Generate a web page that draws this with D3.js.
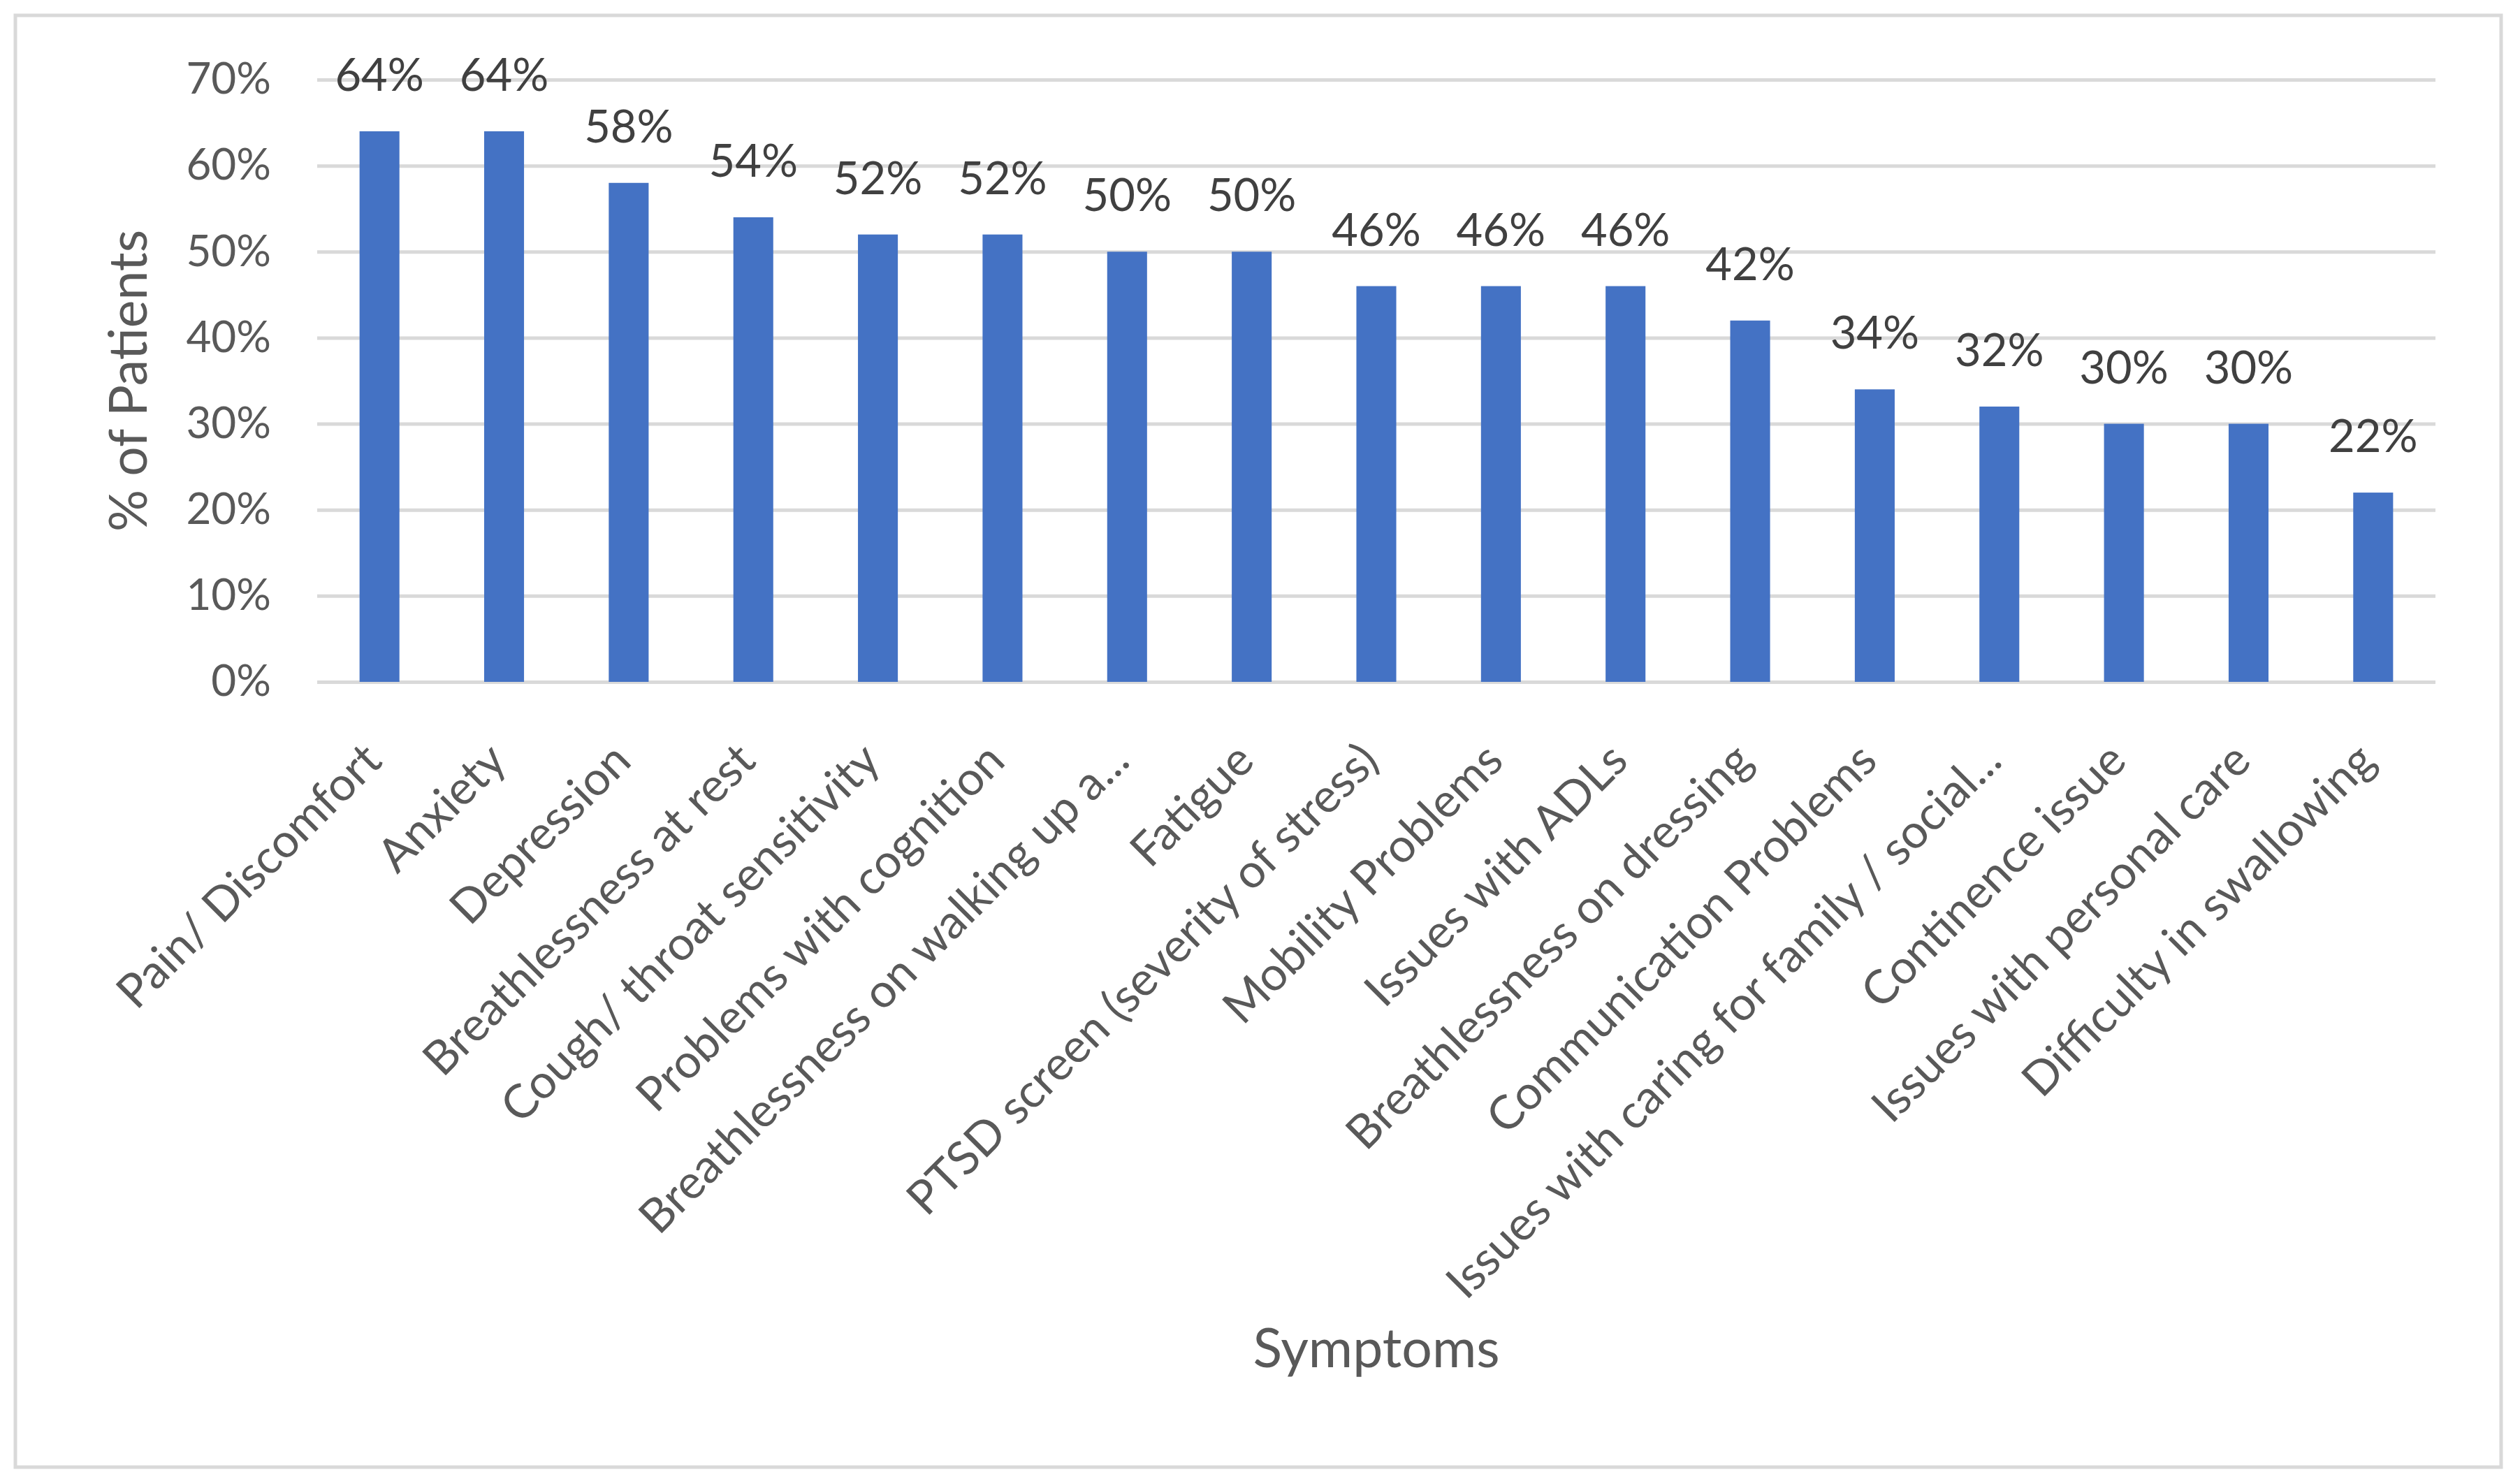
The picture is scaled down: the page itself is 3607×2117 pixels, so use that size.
<!DOCTYPE html>
<html>
<head>
<meta charset="utf-8">
<script src="https://cdn.jsdelivr.net/npm/d3@7"></script>
<style>
  html, body { margin: 0; padding: 0; background: #fff; }
  svg { display: block; font-family: Lato, "Open Sans", sans-serif; }
  .grid line { stroke: #d9d9d9; stroke-width: 5; }
  .grid path { display: none; }
</style>
</head>
<body>
<div id="chart"></div>
<script>
// Symptoms and share of patients (%)
const symptoms = [
  'Pain/ Discomfort', 'Anxiety', 'Depression', 'Breathlessness at rest',
  'Cough/ throat sensitivity', 'Problems with cognition', 'Breathlessness on walking up a...',
  'Fatigue', 'PTSD screen (severity of stress)', 'Mobility Problems', 'Issues with ADLs',
  'Breathlessness on dressing', 'Communication Problems', 'Issues with caring for family / social...',
  'Continence issue', 'Issues with personal care', 'Difficulty in swallowing'
];
const patientPct = [64, 64, 58, 54, 52, 52, 50, 50, 46, 46, 46, 42, 34, 32, 30, 30, 22];
const yTicks = [0, 10, 20, 30, 40, 50, 60, 70];

const W = 3607, H = 2117;
const plot = { left: 454, right: 3486, top: 114, bottom: 976 };

const svg = d3.select('#chart').append('svg')
  .attr('width', W).attr('height', H)
  .attr('viewBox', `0 0 ${W} ${H}`);

// outer chart border
svg.append('rect')
  .attr('x', 22).attr('y', 22).attr('width', 3558).attr('height', 2078)
  .attr('fill', '#fff').attr('stroke', '#d9d9d9').attr('stroke-width', 5);

const x = d3.scaleBand().domain(symptoms).range([plot.left, plot.right])
  .paddingInner(0.68).paddingOuter(0.34);
const y = d3.scaleLinear().domain([0, 70]).range([plot.bottom, plot.top]);

// gridlines + y tick labels
const yAxis = svg.append('g').attr('class', 'grid')
  .attr('transform', `translate(${plot.left},0)`)
  .call(d3.axisLeft(y).tickValues(yTicks).tickSize(-(plot.right - plot.left))
    .tickPadding(66).tickFormat(d => d + '%'));
yAxis.selectAll('text')
  .attr('font-size', 62).attr('fill', '#595959')
  .attr('font-family', 'Lato, "Open Sans", sans-serif');

// bars
svg.selectAll('rect.bar').data(patientPct).enter().append('rect')
  .attr('class', 'bar')
  .attr('x', (d, i) => x(symptoms[i]))
  .attr('y', d => y(d))
  .attr('width', x.bandwidth())
  .attr('height', d => y(0) - y(d))
  .attr('fill', '#4472c4');

// data labels
svg.selectAll('text.val').data(patientPct).enter().append('text')
  .attr('class', 'val')
  .attr('x', (d, i) => x(symptoms[i]) + x.bandwidth() / 2)
  .attr('y', d => y(d) - 58)
  .attr('text-anchor', 'middle')
  .attr('font-size', 65).attr('fill', '#404040')
  .text(d => d + '%');

// category labels, rotated
const xAxis = svg.append('g')
  .attr('transform', `translate(0,${plot.bottom})`)
  .call(d3.axisBottom(x).tickSize(0).tickPadding(0));
xAxis.select('.domain').remove();
xAxis.selectAll('text')
  .attr('font-size', 67).attr('fill', '#595959')
  .attr('font-family', 'Lato, "Open Sans", sans-serif')
  .attr('text-anchor', 'end')
  .attr('dy', '0.35em')
  .attr('transform', 'translate(-10,100) rotate(-45)');

// axis titles
svg.append('text')
  .attr('transform', `translate(210,${(plot.top + plot.bottom) / 2}) rotate(-90)`)
  .attr('text-anchor', 'middle')
  .attr('font-size', 75).attr('fill', '#595959')
  .text('% of Patients');

svg.append('text')
  .attr('x', (plot.left + plot.right) / 2).attr('y', 1957)
  .attr('text-anchor', 'middle')
  .attr('font-size', 77).attr('fill', '#595959')
  .text('Symptoms');
</script>
</body>
</html>
